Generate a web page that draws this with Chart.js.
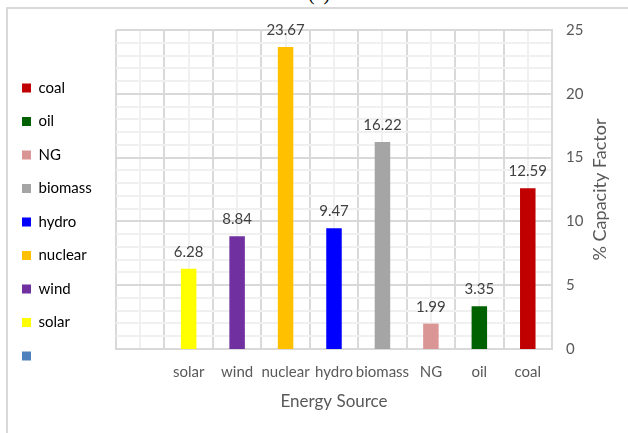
<!DOCTYPE html>
<html>
<head>
<meta charset="utf-8">
<script src="https://cdn.jsdelivr.net/npm/chart.js@4/dist/chart.umd.min.js"></script>
<style>
  html, body { margin: 0; padding: 0; background: #ffffff; overflow: hidden; }
  #wrap { position: relative; width: 628px; height: 433px; overflow: hidden; }
  #frame { position: absolute; left: 6px; top: 7px; right: 0; bottom: 0;
           border-left: 2px solid #d9d9d9; border-top: 2px solid #d9d9d9; }
  #caption { position: absolute; left: 0; top: -18px; width: 638px; text-align: center;
             font: 20px "Liberation Serif", "DejaVu Serif", serif; line-height: 22px; color: #000; }
  canvas { position: absolute; left: 0; top: 0; }
</style>
</head>
<body>
<div id="wrap">
  <div id="frame"></div>
  <div id="caption">(a)</div>
  <canvas id="c" width="628" height="433"></canvas>
</div>
<script>
// Energy sources (first slot is an empty category) and their capacity factors
const categories = ['', 'solar', 'wind', 'nuclear', 'hydro', 'biomass', 'NG', 'oil', 'coal'];
const capacityFactor = [null, 6.28, 8.84, 23.67, 9.47, 16.22, 1.99, 3.35, 12.59];
const barColors = ['#4F81BD', '#FFFF00', '#7030A0', '#FFC000', '#0000FF', '#A5A5A5', '#DA9694', '#006100', '#C00000'];
const yTicks = [0, 5, 10, 15, 20, 25];

const FONT = 'Lato, "Open Sans", "Liberation Sans", sans-serif';
const TEXT = '#595959';

// Value labels above each bar
const valueLabels = {
  id: 'valueLabels',
  afterDatasetsDraw(chart) {
    const ctx = chart.ctx;
    const meta = chart.getDatasetMeta(0);
    ctx.save();
    ctx.font = '15px ' + FONT;
    ctx.fillStyle = '#404040';
    ctx.textAlign = 'center';
    ctx.textBaseline = 'alphabetic';
    meta.data.forEach((bar, i) => {
      const v = capacityFactor[i];
      if (v === null || v === undefined) return;
      ctx.fillText(v.toFixed(2), bar.x, bar.y - 12);
    });
    ctx.restore();
  }
};

// Right-hand axis title, reading bottom to top
const rightTitle = {
  id: 'rightTitle',
  afterDraw(chart) {
    const ctx = chart.ctx;
    const area = chart.chartArea;
    ctx.save();
    ctx.translate(600, (area.top + area.bottom) / 2);
    ctx.rotate(-Math.PI / 2);
    ctx.font = '18px ' + FONT;
    ctx.fillStyle = TEXT;
    ctx.textAlign = 'center';
    ctx.textBaseline = 'middle';
    ctx.fillText('% Capacity Factor', 0, 0);
    ctx.restore();
  }
};

const legendOrder = categories.map((c, i) => i).reverse();

new Chart(document.getElementById('c'), {
  type: 'bar',
  data: {
    labels: categories,
    datasets: [{
      data: capacityFactor,
      backgroundColor: barColors,
      borderWidth: 0,
      barPercentage: 0.32,
      categoryPercentage: 1.0
    }]
  },
  options: {
    responsive: false,
    animation: false,
    devicePixelRatio: 1,
    layout: { padding: { left: 3.5, top: 30, right: 0, bottom: 19 } },
    plugins: {
      tooltip: { enabled: false },
      legend: {
        position: 'left',
        align: 'center',
        onClick: null,
        labels: {
          boxWidth: 9,
          boxHeight: 9,
          padding: 18.5,
          color: TEXT,
          font: { family: FONT, size: 15 },
          generateLabels: () => legendOrder.map(i => ({
            text: categories[i],
            fillStyle: barColors[i],
            strokeStyle: barColors[i],
            lineWidth: 0,
            hidden: false,
            datasetIndex: 0
          }))
        }
      }
    },
    scales: {
      x: {
        type: 'category',
        position: 'bottom',
        offset: true,
        grid: { offset: true, color: '#d9d9d9', lineWidth: 2, drawTicks: false },
        border: { color: '#d9d9d9', width: 2 },
        ticks: { color: TEXT, font: { family: FONT, size: 15 }, padding: 14, maxRotation: 0, autoSkip: false },
        title: { display: true, text: 'Energy Source', color: TEXT, font: { family: FONT, size: 17 }, padding: { top: 0, bottom: 2 } },
        afterFit(s) { s.height = 65; }
      },
      xMinor: {
        type: 'category',
        position: 'top',
        offset: true,
        z: -1,
        grid: { offset: false, color: '#f0f0f0', lineWidth: 2, drawTicks: false },
        border: { display: false },
        ticks: { display: false },
        afterFit(s) { s.height = 0; }
      },
      yGap: {
        type: 'linear',
        position: 'left',
        grid: { display: false },
        border: { display: false },
        ticks: { display: false },
        afterFit(s) { s.width = 116 - 3.5 - s.chart.legend.width; }
      },
      y: {
        type: 'linear',
        position: 'right',
        min: 0,
        max: 25,
        grid: {
          color: c => (c.tick && yTicks.includes(c.tick.value)) ? '#d9d9d9' : '#f0f0f0',
          lineWidth: 2,
          drawTicks: false
        },
        border: { color: '#d9d9d9', width: 2 },
        ticks: {
          stepSize: 1,
          autoSkip: false,
          padding: 14,
          color: TEXT,
          font: { family: FONT, size: 15 },
          callback: v => yTicks.includes(v) ? String(v) : ''
        },
        title: { display: false },
        afterFit(s) { s.width = 76; }
      }
    }
  },
  plugins: [valueLabels, rightTitle]
});
</script>
</body>
</html>
